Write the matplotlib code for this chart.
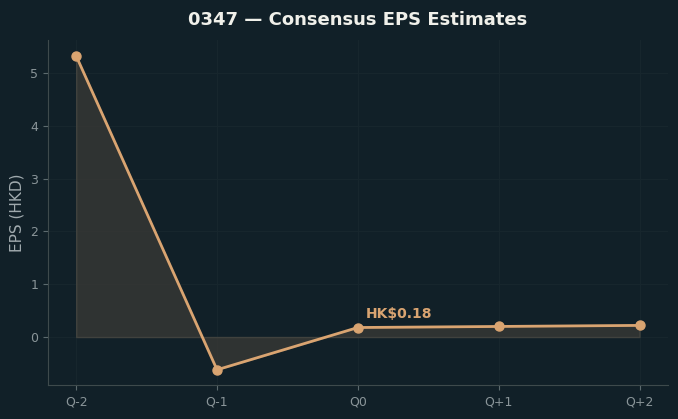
import matplotlib
matplotlib.use("Agg")
import matplotlib.pyplot as plt
import numpy as np

quarters = ["Q-2", "Q-1", "Q0", "Q+1", "Q+2"]
eps = [5.32, -0.62, 0.18, 0.20, 0.22]
label_text = "HK$0.18"

bg = "#112028"
line_c = "#d9a471"

fig = plt.figure(figsize=(6.78, 4.19), dpi=100, facecolor=bg)
ax = fig.add_axes([0.0708, 0.080, 0.914, 0.824], facecolor=bg)

x = np.arange(len(quarters))
ax.fill_between(x, 0, eps, color="#3a3a36", alpha=0.75, edgecolor="#4a4a44", linewidth=1, zorder=1)
ax.plot(x, eps, color=line_c, linewidth=2, marker="o", markersize=6.5, zorder=3)
ax.annotate(label_text, (x[2], eps[2]), xytext=(6, 5), textcoords="offset points",
            color=line_c, fontsize=10, fontweight="bold", ha="left", va="bottom")

ax.set_xticks(x)
ax.set_xticklabels(quarters)
ax.grid(True, color="#17262d", linewidth=0.8, zorder=0)
ax.set_axisbelow(True)
for s in ["top", "right"]:
    ax.spines[s].set_visible(False)
for s in ["left", "bottom"]:
    ax.spines[s].set_color("#3e4a4c")
ax.tick_params(colors="#5c6a6e", labelcolor="#8a9599", labelsize=9)
ax.set_ylabel("EPS (HKD)", color="#a0aaae", fontsize=11)
ax.set_title("0347 — Consensus EPS Estimates", color="#f0f0ea", fontsize=13, fontweight="bold", pad=11)

fig.savefig("out.png", dpi=100, facecolor=bg)
